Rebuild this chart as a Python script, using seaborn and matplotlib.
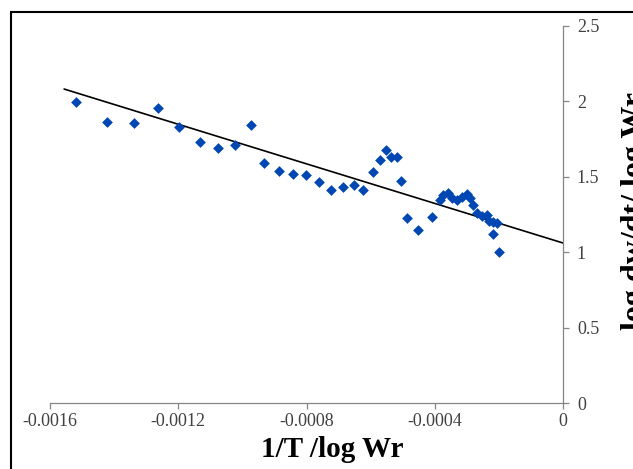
import matplotlib
matplotlib.use("Agg")
import matplotlib.pyplot as plt
from matplotlib.patches import Rectangle
import numpy as np
import pandas as pd
import seaborn as sns

# Data
x_vals = [-0.001519, -0.001422, -0.001338, -0.001263, -0.001198, -0.001132,
          -0.001076, -0.001023, -0.000973, -0.000933, -0.000886, -0.000842,
          -0.000802, -0.000761, -0.000724, -0.000686, -0.000652, -0.000624,
          -0.000593, -0.000571, -0.000552, -0.000536, -0.000518, -0.000505,
          -0.000487, -0.000452, -0.000409,
          -0.000384, -0.000374, -0.000359, -0.000346, -0.000331, -0.000315,
          -0.000300, -0.000290, -0.000281, -0.000268, -0.000253, -0.000237,
          -0.000231, -0.000218, -0.000206, -0.000218, -0.000200]
y_vals = [1.996, 1.863, 1.857, 1.956, 1.830, 1.731,
          1.691, 1.711, 1.844, 1.592, 1.538, 1.519,
          1.512, 1.466, 1.412, 1.432, 1.446, 1.412,
          1.532, 1.611, 1.678, 1.631, 1.631, 1.472,
          1.227, 1.147, 1.233,
          1.346, 1.379, 1.393, 1.359, 1.346, 1.366,
          1.386, 1.359, 1.313, 1.259, 1.240, 1.247,
          1.207, 1.200, 1.194, 1.121, 1.001]

trend_x = [-0.001556, 0.0]
trend_y = [2.082, 1.061]

x_ticks = [-0.0016, -0.0012, -0.0008, -0.0004, 0.0]
x_tick_labels = ["-0.0016", "-0.0012", "-0.0008", "-0.0004", "0"]
y_ticks = [0, 0.5, 1, 1.5, 2, 2.5]
y_tick_labels = ["0", "0.5", "1", "1.5", "2", "2.5"]

x_label = "1/T /log Wr"
y_label = "log dw/dt/ log Wr"

df = pd.DataFrame({"x": x_vals, "y": y_vals})
df_trend = pd.DataFrame({"x": trend_x, "y": trend_y})

sns.set_theme(style="white")
plt.rcParams["font.family"] = ["Liberation Serif", "DejaVu Serif"]

W, H = 633, 469
fig = plt.figure(figsize=(W / 100, H / 100), dpi=100)
fig.patch.set_facecolor("white")
ax = fig.add_axes([50 / W, 66 / H, 513 / W, 377 / H])
ax.set_facecolor("white")

sns.lineplot(data=df_trend, x="x", y="y", ax=ax, color="black", linewidth=1.2,
             zorder=2)
sns.scatterplot(data=df, x="x", y="y", ax=ax, marker="D", s=30,
                color="#0047B3", edgecolor="#0047B3", linewidth=0, zorder=3)

ax.set_xlim(-0.0016, 0.0)
ax.set_ylim(0, 2.5)
ax.set_xticks(x_ticks)
ax.set_xticklabels(x_tick_labels)
ax.set_yticks(y_ticks)
ax.set_yticklabels(y_tick_labels)
ax.yaxis.tick_right()

for side in ["top", "left"]:
    ax.spines[side].set_visible(False)
for side in ["bottom", "right"]:
    ax.spines[side].set_visible(True)
    ax.spines[side].set_color("#868686")
    ax.spines[side].set_linewidth(0.9)

ax.tick_params(axis="x", direction="out", length=4, width=0.9, color="#868686",
               labelsize=13, labelcolor="#404040", pad=3, bottom=True)
ax.tick_params(axis="y", direction="out", length=4, width=0.9, color="#868686",
               labelsize=13, labelcolor="#404040", pad=6, right=True, left=False)

ax.set_ylabel("")
ax.set_xlabel("")
fig.text(332 / W, 1 - 449 / H, x_label, fontsize=21, fontweight="bold",
         color="black", ha="center", va="center")

fig.text(621 / W, 1 - 211 / H, y_label, rotation=90, fontsize=23,
         fontweight="bold", color="black", ha="left", va="center")

fig.add_artist(Rectangle((11 / W, -0.1), 2.0, (H - 12) / H + 0.1,
                         transform=fig.transFigure, fill=False,
                         edgecolor="black", linewidth=1.5))

fig.savefig("out.png", dpi=100, facecolor="white")
